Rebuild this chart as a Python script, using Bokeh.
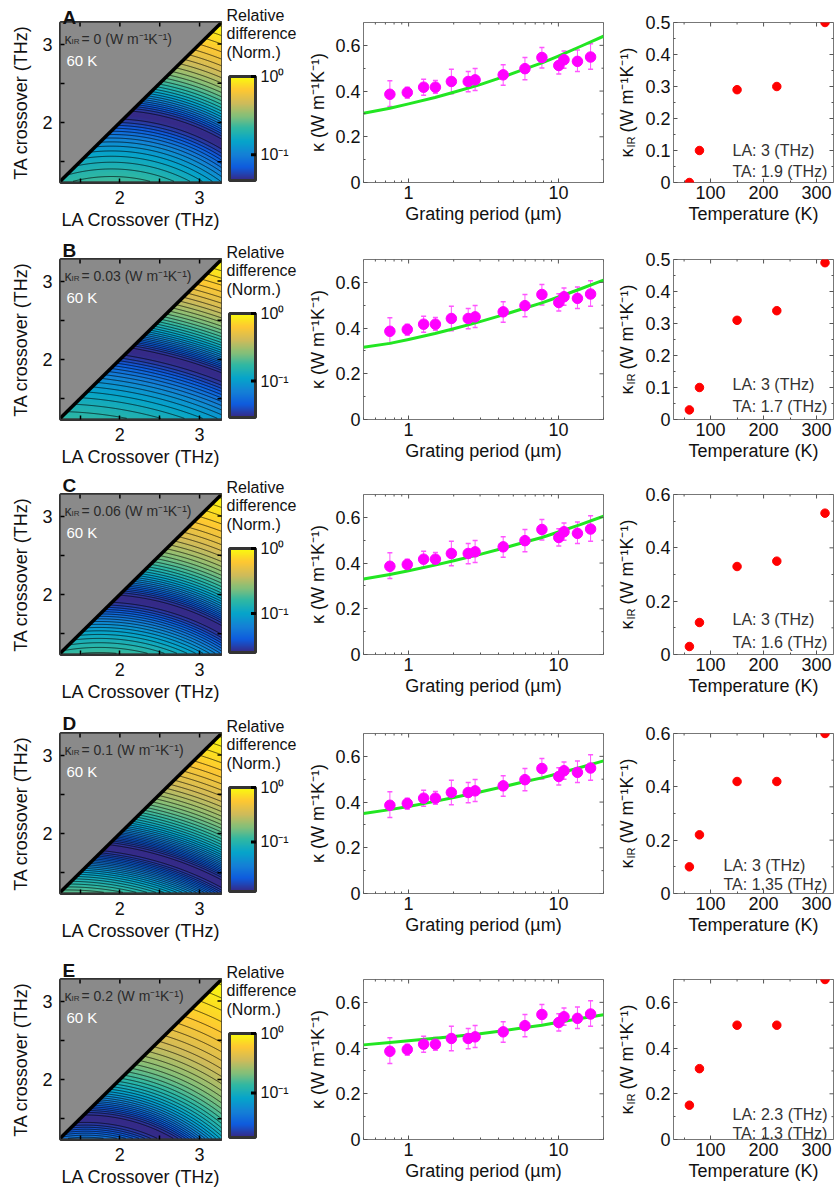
import numpy as np
from bokeh.plotting import figure
from bokeh.models import (Label, FixedTicker, LinearColorMapper, Whisker, TeeHead, ColumnDataSource,
                          Range1d, CustomJSTickFormatter, GridBox)
from bokeh.core.properties import value
from bokeh.layouts import row, column
from bokeh.embed import file_html
from bokeh.resources import INLINE

FONT = "Liberation Sans"

# ---------------- data ----------------
letters = ["A", "B", "C", "D", "E"]
kir_values = ["0", "0.03", "0.06", "0.1", "0.2"]

# dark valley of each relative-difference map: three (LA, TA) points (THz)
valley_A = [(2.10, 2.10), (2.72, 1.98), (3.28, 1.73)]
valley_B = [(2.15, 2.10), (2.72, 1.97), (3.28, 1.78)]
valley_C = [(1.95, 1.95), (2.55, 1.85), (3.28, 1.55)]
valley_D = [(1.82, 1.82), (2.43, 1.70), (3.20, 1.40)]
valley_E = [(1.50, 1.50), (2.25, 1.39), (3.00, 0.95)]
valleys = [valley_A, valley_B, valley_C, valley_D, valley_E]
log_min = [-1.33, -1.54, -1.60, -1.91, -1.75]      # bottom of each colour bar (log10)
corner_top_right = [0.0, 0.0, 0.0, 0.0, 0.0]       # log10 value at the top-right corner
corner_bottom_left = [-0.68, -0.78, -0.80, -0.85, -1.40]  # log10 value at the bottom-left corner
valley_width = [0.15, 0.15, 0.15, 0.15, 0.15]      # half-width of the dark band (THz)
map_ticks = [2, 3]
map_minor_ticks = [1.5, 2.5]
cbar_ticks = [0, -1]
cbar_labels = ["10⁰", "10⁻¹"]

# middle column: measured kappa vs grating period
grating = [0.75, 0.98, 1.26, 1.51, 1.93, 2.50, 2.78, 4.28, 5.98, 7.76, 10.06, 10.9, 13.4, 16.4]
kappa = [0.386, 0.394, 0.417, 0.417, 0.442, 0.442, 0.449, 0.471, 0.498, 0.547, 0.512, 0.537, 0.530, 0.549]
kappa_lo = [0.332, 0.369, 0.382, 0.391, 0.388, 0.397, 0.402, 0.426, 0.449, 0.501, 0.475, 0.500, 0.486, 0.496]
kappa_hi = [0.445, 0.417, 0.452, 0.446, 0.496, 0.486, 0.499, 0.515, 0.547, 0.591, 0.550, 0.575, 0.580, 0.607]
period_ticks = [1, 10]
period_minor = [0.5, 0.6, 0.7, 0.8, 0.9, 2, 3, 4, 5, 6, 7, 8, 9, 20]
kappa_ticks = [0, 0.2, 0.4, 0.6]
kappa_minor = [0.1, 0.3, 0.5]

# model curves (green)
model_x = [0.5, 0.75, 1.0, 1.5, 2.0, 3.0, 4.28, 6.0, 7.76, 10.0, 14.0, 20.0]
model_A = [0.303, 0.325, 0.344, 0.372, 0.395, 0.428, 0.462, 0.497, 0.523, 0.553, 0.595, 0.640]
model_B = [0.316, 0.333, 0.350, 0.376, 0.397, 0.428, 0.458, 0.488, 0.510, 0.536, 0.571, 0.610]
model_C = [0.330, 0.350, 0.366, 0.391, 0.410, 0.438, 0.465, 0.492, 0.512, 0.536, 0.568, 0.605]
model_D = [0.350, 0.367, 0.381, 0.403, 0.420, 0.444, 0.467, 0.490, 0.506, 0.525, 0.551, 0.580]
model_E = [0.414, 0.424, 0.432, 0.443, 0.451, 0.463, 0.476, 0.490, 0.500, 0.513, 0.529, 0.546]
models = [model_A, model_B, model_C, model_D, model_E]

# right column: kappa_IR vs temperature
temps = [60, 79, 150, 225, 316]
kir_A = [0.00, 0.10, 0.29, 0.30, 0.50]
kir_B = [0.03, 0.10, 0.31, 0.34, 0.49]
kir_C = [0.03, 0.12, 0.33, 0.35, 0.53]
kir_D = [0.10, 0.22, 0.42, 0.42, 0.60]
kir_E = [0.15, 0.31, 0.50, 0.50, 0.70]
kirs = [kir_A, kir_B, kir_C, kir_D, kir_E]
kir_ymax = [0.5, 0.5, 0.6, 0.6, 0.7]
kir_major = [[0, 0.1, 0.2, 0.3, 0.4, 0.5], [0, 0.1, 0.2, 0.3, 0.4, 0.5],
             [0, 0.2, 0.4, 0.6], [0, 0.2, 0.4, 0.6], [0, 0.2, 0.4, 0.6]]
kir_minor = [[0.05, 0.15, 0.25, 0.35, 0.45], [0.05, 0.15, 0.25, 0.35, 0.45],
             [0.1, 0.3, 0.5], [0.1, 0.3, 0.5], [0.1, 0.3, 0.5, 0.7]]
temp_ticks = [100, 200, 300]
temp_minor = [50, 150, 250]
la_text = ["LA: 3 (THz)", "LA: 3 (THz)", "LA: 3 (THz)", "LA: 3 (THz)", "LA: 2.3 (THz)"]
ta_text = ["TA: 1.9 (THz)", "TA: 1.7 (THz)", "TA: 1.6 (THz)", "TA: 1.35 (THz)", "TA: 1.3 (THz)"]

# ---------------- style / layout ----------------
parula_stops = ["#352a87", "#0f5cdd", "#1481d6", "#06a4ca", "#2eb7a4",
                "#87bf77", "#d1bb59", "#fec832", "#f9fb0e"]


def make_palette(stops, n=256):
    rgb = np.array([[int(s[k:k + 2], 16) for k in (1, 3, 5)] for s in stops], float)
    t = np.linspace(0, 1, len(stops))
    out = []
    for v in np.linspace(0, 1, n):
        c = [int(round(np.interp(v, t, rgb[:, k]))) for k in range(3)]
        out.append("#%02x%02x%02x" % tuple(c))
    return out


PAL = make_palette(parula_stops)

W_HEAT, W_CBAR, W_MID, W_RGT = 222, 78, 306, 229
HEAT_L, MID_L, RGT_L = 60, 63, 67
BAR_X0, BAR_W, BAR_TOP, BAR_H = 7, 26, 54, 104   # colour bar box inside its panel (px)
rows_T = [22, 22, 22, 22, 22]
rows_B = [55, 53, 57, 64, 51]
FH = 160
TOTAL_W = W_HEAT + W_CBAR + W_MID + W_RGT
TOTAL_H = sum(t + FH + b for t, b in zip(rows_T, rows_B))
letter_gap = [5, 9, 9, 10, 9]
la_lab_off = [32, 35, 35, 28, 25]
ta_lab_off = [11, 13, 12, 9, 6]
ta_width = [96, 96, 96, 105, 96]

NUM_FMT = CustomJSTickFormatter(code="return String(Number(tick.toFixed(4)));")


def circle3(pts):
    (x1, y1), (x2, y2), (x3, y3) = pts
    A = 2 * np.array([[x2 - x1, y2 - y1], [x3 - x1, y3 - y1]])
    b = np.array([x2 ** 2 - x1 ** 2 + y2 ** 2 - y1 ** 2, x3 ** 2 - x1 ** 2 + y3 ** 2 - y1 ** 2])
    cx, cy = np.linalg.solve(A, b)
    return cx, cy, np.hypot(x1 - cx, y1 - cy)


def style_axis(ax, tick_color, size="18px"):
    ax.major_label_text_font = FONT
    ax.major_label_text_font_size = size
    ax.major_label_text_color = "#111111"
    ax.axis_label_text_font = FONT
    ax.axis_label_text_font_size = "18px"
    ax.axis_label_text_font_style = "normal"
    ax.axis_label_text_color = "#111111"
    ax.major_tick_in = 4
    ax.major_tick_out = 0
    ax.minor_tick_in = 2
    ax.minor_tick_out = 0
    ax.major_tick_line_color = tick_color
    ax.minor_tick_line_color = tick_color
    ax.axis_line_color = None


def mirror_ticks(p, top_y, xs_major, xs_minor, right_x, ys_major, ys_minor, color, lw, big=8, small=4):
    # tick marks on the top and right frame edges (half of each dash is clipped by the frame)
    p.scatter(xs_major, [top_y] * len(xs_major), marker="dash", angle=np.pi / 2, size=big,
              line_color=color, line_width=lw)
    if xs_minor:
        p.scatter(xs_minor, [top_y] * len(xs_minor), marker="dash", angle=np.pi / 2, size=small,
                  line_color=color, line_width=lw)
    p.scatter([right_x] * len(ys_major), ys_major, marker="dash", size=big, line_color=color, line_width=lw)
    if ys_minor:
        p.scatter([right_x] * len(ys_minor), ys_minor, marker="dash", size=small, line_color=color,
                  line_width=lw)


def lab(p, text, x, y, size, **kw):
    p.add_layout(Label(x=x, y=y, text=text, text_font=FONT, text_font_size=size, **kw))


# overlay for texts that sit outside the plot frames
ov = figure(width=TOTAL_W, height=TOTAL_H, x_range=Range1d(0, TOTAL_W), y_range=Range1d(0, TOTAL_H),
            min_border=0, x_axis_location=None, y_axis_location=None, output_backend="svg",
            toolbar_location=None, background_fill_alpha=0, border_fill_alpha=0)
ov.outline_line_color = None
ov.grid.visible = False


def otext(text, x, y, size, **kw):
    # x, y in page pixels from the top-left corner of the layout
    ov.text(x=[x], y=[TOTAL_H - y], text=[text], text_font=value(FONT), text_font_size=size, **kw)


rows_out = []
row_y = 0
for i in range(5):
    T, B = rows_T[i], rows_B[i]
    H = T + FH + B
    frame_top = row_y + T
    frame_bot = frame_top + FH

    # ======== left: relative-difference map ========
    lo_x, hi_x = 1.255, 3.275
    lo_y, hi_y = 1.235, 3.275
    img_y0 = 1.250
    xs = np.linspace(lo_x, hi_x, 260)
    ys = np.linspace(img_y0, hi_y, 260)
    LA, TA = np.meshgrid(xs, ys)
    cx, cy, r0 = circle3(valleys[i])
    w = valley_width[i]

    def dist(a, b):
        return np.hypot(a - cx, b - cy) - r0

    def shape(d):
        return np.log10(1 + (d / w) ** 2)

    q_up = (corner_top_right[i] - log_min[i]) / shape(dist(hi_x, hi_y))
    q_dn = (corner_bottom_left[i] - log_min[i]) / shape(dist(1.30, 1.26))
    D = dist(LA, TA)
    Z = log_min[i] + np.where(D > 0, q_up, q_dn) * shape(D)
    Z = np.where(TA > LA, np.nan, Z)

    hp = figure(width=W_HEAT, height=H, x_range=Range1d(lo_x, hi_x), y_range=Range1d(lo_y, hi_y),
                min_border_left=HEAT_L, min_border_right=1, min_border_top=T, min_border_bottom=B,
                output_backend="svg", toolbar_location=None, background_fill_color="white")
    mapper = LinearColorMapper(palette=PAL, low=log_min[i], high=0.0, nan_color="#8a8a8a")
    hp.image(image=[Z], x=lo_x, y=img_y0, dw=hi_x - lo_x, dh=hi_y - img_y0, color_mapper=mapper)
    levels = np.linspace(log_min[i] + 0.03, -0.02, int(round(-log_min[i] / 0.05)))
    hp.contour(x=xs, y=ys, z=np.ma.masked_invalid(Z), levels=levels,
               line_color="black", line_width=0.7, line_alpha=0.95, fill_color=None)
    hp.line(x=[lo_x, hi_x], y=[lo_x, hi_x], line_color="black", line_width=3.5)
    hp.grid.visible = False
    hp.outline_line_color = "#333333"
    hp.outline_line_width = 3
    tk = FixedTicker(ticks=map_ticks, minor_ticks=map_minor_ticks)
    hp.xaxis.ticker = tk
    hp.yaxis.ticker = tk
    hp.xaxis.formatter = NUM_FMT
    hp.yaxis.formatter = NUM_FMT
    for ax in (hp.xaxis[0], hp.yaxis[0]):
        style_axis(ax, "black")
        ax.minor_tick_in = 4
        ax.major_label_standoff = 8
        ax.major_tick_line_width = 1.5
        ax.minor_tick_line_width = 1.5
    hp.xaxis.axis_label = "LA Crossover (THz)"
    hp.yaxis.axis_label = "TA crossover (THz)"
    hp.xaxis.axis_label_standoff = 3
    hp.yaxis.axis_label_standoff = 8
    mirror_ticks(hp, hi_y, map_ticks + map_minor_ticks, [], hi_x, map_ticks + map_minor_ticks, [],
                 "black", 1.5)
    lab(hp, "κ", lo_x, hi_y, "14px", x_offset=4, y_offset=-16, text_baseline="middle", text_color="#2a2a2a")
    lab(hp, "IR", lo_x, hi_y, "8px", x_offset=11, y_offset=-19, text_baseline="middle", text_color="#2a2a2a")
    lab(hp, "= " + kir_values[i] + " (W m⁻¹K⁻¹)", lo_x, hi_y, "14px", x_offset=21, y_offset=-16,
        text_baseline="middle", text_color="#2a2a2a")
    lab(hp, "60 K", lo_x, hi_y, "15px", x_offset=6, y_offset=-38, text_baseline="middle", text_color="white")
    otext(letters[i], HEAT_L + 2, frame_top - letter_gap[i], "19px", text_font_style="bold",
          text_baseline="alphabetic", text_color="#111111")

    # ======== colour bar (panel with the same frame height as the others) ========
    s = -log_min[i] / BAR_H
    cp = figure(width=W_CBAR, height=H, x_range=Range1d(0, W_CBAR),
                y_range=Range1d(log_min[i] - (FH - BAR_TOP - BAR_H) * s, BAR_TOP * s),
                x_axis_location=None, y_axis_location=None,
                min_border_left=0, min_border_right=0, min_border_top=T, min_border_bottom=B,
                output_backend="svg", toolbar_location=None)
    cp.outline_line_color = None
    cp.grid.visible = False
    grad = np.linspace(log_min[i], 0, 200).reshape(-1, 1)
    cp.image(image=[grad], x=BAR_X0, y=log_min[i], dw=BAR_W, dh=-log_min[i], color_mapper=mapper)
    cp.quad(left=BAR_X0, right=BAR_X0 + BAR_W, bottom=log_min[i], top=0, fill_color=None,
            line_color="#333333", line_width=3)
    cp.scatter([BAR_X0 + BAR_W - 2] * len(cbar_ticks), cbar_ticks, marker="dash", size=5,
               line_color="black", line_width=3)
    cp.text(x=[BAR_X0 + BAR_W + 5] * len(cbar_ticks), y=cbar_ticks, text=cbar_labels,
            text_font=value(FONT), text_font_size="16px", text_baseline="middle", text_color="#111111")
    bar_top = frame_top + BAR_TOP
    for txt, off in (("Relative", 61), ("difference", 43), ("(Norm.)", 24)):
        otext(txt, W_HEAT + BAR_X0 - 3, bar_top - off, "16px", text_baseline="middle", text_color="#111111")

    # ======== middle: kappa vs grating period ========
    mp = figure(width=W_MID, height=H, x_axis_type="log", x_range=Range1d(0.5, 20), y_range=Range1d(0, 0.7),
                min_border_left=MID_L, min_border_right=3, min_border_top=T, min_border_bottom=B,
                output_backend="svg", toolbar_location=None)
    mp.line(model_x, models[i], line_color="#22e622", line_width=3, line_join="round")
    src = ColumnDataSource(dict(x=grating, y=kappa, lo=kappa_lo, hi=kappa_hi))
    mp.add_layout(Whisker(source=src, base="x", upper="hi", lower="lo", line_color="#ff55ff", line_width=1,
                          upper_head=TeeHead(size=5, line_color="#ff55ff", line_width=1.5),
                          lower_head=TeeHead(size=5, line_color="#ff55ff", line_width=1.5)))
    mp.scatter("x", "y", source=src, size=10.5, color="#ff00ff")
    mp.grid.visible = False
    mp.outline_line_color = "#777777"
    mp.xaxis.ticker = FixedTicker(ticks=period_ticks, minor_ticks=period_minor)
    mp.yaxis.ticker = FixedTicker(ticks=kappa_ticks, minor_ticks=kappa_minor)
    mp.xaxis.formatter = NUM_FMT
    mp.yaxis.formatter = NUM_FMT
    for ax in (mp.xaxis[0], mp.yaxis[0]):
        style_axis(ax, "#555555")
        ax.major_label_standoff = 3
    mp.xaxis.axis_label = "Grating period (µm)"
    mp.yaxis.axis_label = "κ (W m⁻¹K⁻¹)"
    mp.xaxis.axis_label_standoff = 2
    mp.yaxis.axis_label_standoff = 4
    mirror_ticks(mp, 0.7, period_ticks, period_minor, 20, kappa_ticks, kappa_minor, "#555555", 1)

    # ======== right: kappa_IR vs temperature ========
    ym = kir_ymax[i]
    rp = figure(width=W_RGT, height=H, x_range=Range1d(30, 332), y_range=Range1d(0, ym),
                min_border_left=RGT_L, min_border_right=2, min_border_top=T, min_border_bottom=B,
                output_backend="svg", toolbar_location=None)
    rp.scatter(temps, kirs[i], size=8.5, color="#ff0000")
    rp.grid.visible = False
    rp.outline_line_color = "#777777"
    rp.xaxis.ticker = FixedTicker(ticks=temp_ticks, minor_ticks=temp_minor)
    rp.yaxis.ticker = FixedTicker(ticks=kir_major[i], minor_ticks=kir_minor[i])
    rp.xaxis.formatter = NUM_FMT
    rp.yaxis.formatter = NUM_FMT
    for ax in (rp.xaxis[0], rp.yaxis[0]):
        style_axis(ax, "#555555")
        ax.major_label_standoff = 3
    rp.xaxis.axis_label = "Temperature (K)"
    rp.xaxis.axis_label_standoff = 2
    mirror_ticks(rp, ym, temp_ticks, temp_minor, 332, kir_major[i], kir_minor[i], "#555555", 1)
    lab(rp, la_text[i], 332, 0, "16px", x_offset=-(5 + ta_width[i]), y_offset=la_lab_off[i],
        text_baseline="middle", text_color="#333333")
    lab(rp, ta_text[i], 332, 0, "16px", x_offset=-(5 + ta_width[i]), y_offset=ta_lab_off[i],
        text_baseline="middle", text_color="#333333")
    # rotated y title: kappa_IR (W m-1K-1)
    tx = W_HEAT + W_CBAR + W_MID + RGT_L - 47
    y0 = frame_bot - 25
    otext("κ", tx, y0, "18px", angle=np.pi / 2, text_baseline="middle", text_color="#111111")
    otext("IR", tx + 4, y0 - 10, "11px", angle=np.pi / 2, text_baseline="middle", text_color="#111111")
    otext("(W m⁻¹K⁻¹)", tx, y0 - 25, "18px", angle=np.pi / 2, text_baseline="middle",
          text_color="#111111")

    rows_out.append(row(hp, cp, mp, rp))
    row_y += H

main = column(*rows_out)
layout = GridBox(children=[(main, 0, 0), (ov, 0, 0)])
open("out.html", "w").write(file_html(layout, INLINE))
